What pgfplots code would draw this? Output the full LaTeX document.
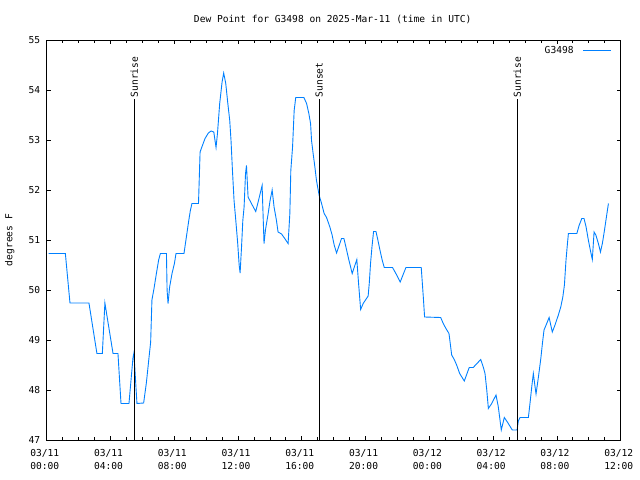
\documentclass[border=0pt]{standalone}
\usepackage{pgfplots}
\pgfplotsset{compat=1.18}
\usepackage{fontspec}
\setmainfont{DejaVu Sans Mono}
\definecolor{gblue}{RGB}{0,128,255}
\newcommand{\gfont}{\fontsize{9.6bp}{12.7bp}\selectfont}
\begin{document}
\begin{tikzpicture}
\path[use as bounding box] (-46.7bp,-40bp) rectangle (593.3bp,440bp);
\begin{axis}[
  at={(0,0)}, anchor=south west,
  scale only axis, width=574bp, height=400bp,
  xmin=0, xmax=36, ymin=47, ymax=55,
  xtick={0,4,...,36}, minor x tick num=3,
  xticklabels={{03/11\\00:00},{03/11\\04:00},{03/11\\08:00},{03/11\\12:00},{03/11\\16:00},{03/11\\20:00},{03/12\\00:00},{03/12\\04:00},{03/12\\08:00},{03/12\\12:00}},
  xticklabel style={align=center, font=\gfont, yshift=-6bp, xshift=-2bp},
  yticklabel style={font=\gfont, xshift=-3bp},
  ytick={47,48,...,55},
  tick align=inside,
  major tick length=4bp, minor tick length=3bp,
  every tick/.style={black, line width=0.8bp},
  axis line style={line width=0.8bp},
  /pgf/number format/assume math mode=true,
  legend style={at={(1,1)}, anchor=north east, draw=none, fill=none, xshift=-6bp, yshift=-2bp, font=\gfont},
  legend plot pos=right, legend cell align=right,
  legend image code/.code={\path (0bp,0bp); \draw[#1] (7bp,0bp) -- (35bp,0bp);},
]
\addplot[gblue, line width=0.9bp] coordinates {
(0.12,50.73) (1.17,50.73) (1.46,49.74) (2.65,49.74) (3.15,48.73) (3.49,48.73)
(3.65,49.74) (3.70,49.64) (4.16,48.73) (4.47,48.73) (4.66,47.73) (5.16,47.73)
(5.41,48.64) (5.47,48.74) (5.66,47.73) (6.08,47.74)
(6.25,48.14) (6.42,48.66) (6.52,48.96) (6.60,49.80) (6.73,50.03) (6.88,50.33)
(7.02,50.60) (7.13,50.73) (7.51,50.73) (7.55,50.00) (7.61,49.73) (7.71,50.06)
(7.86,50.33) (8.01,50.53) (8.11,50.73) (8.61,50.73) (8.76,51.06) (8.91,51.39)
(9.01,51.59) (9.11,51.73) (9.52,51.73) (9.62,52.76) (9.72,52.85) (9.93,53.03)
(10.14,53.14) (10.31,53.18) (10.48,53.16) (10.62,52.85) (10.71,53.13) (10.85,53.73)
(11.00,54.16) (11.10,54.34) (11.23,54.13) (11.36,53.73) (11.48,53.39) (11.56,52.99)
(11.65,52.39) (11.75,51.79) (11.86,51.39) (11.98,50.93) (12.07,50.50)
(12.13,50.34) (12.22,50.86) (12.30,51.39) (12.38,51.66) (12.47,52.33) (12.53,52.49)
(12.63,51.86) (12.84,51.73) (13.11,51.57) (13.36,51.89) (13.51,52.09) (13.63,50.93)
(13.72,51.20) (13.89,51.53) (14.01,51.79) (14.14,52.00) (14.26,51.66) (14.41,51.39)
(14.51,51.16) (14.73,51.12) (14.93,51.03) (15.14,50.93) (15.25,51.53) (15.31,52.39)
(15.42,52.86) (15.52,53.59) (15.62,53.85) (16.13,53.85) (16.30,53.73) (16.44,53.53)
(16.55,53.33) (16.61,52.99) (16.71,52.73) (16.82,52.46) (16.92,52.19) (17.09,51.89)
(17.24,51.73) (17.40,51.53) (17.55,51.45) (17.76,51.26) (17.90,51.10) (18.03,50.90)
(18.18,50.74) (18.49,51.03) (18.64,51.03) (18.81,50.80) (18.95,50.60) (19.06,50.46)
(19.16,50.33) (19.45,50.61) (19.56,50.13) (19.69,49.61) (19.85,49.73) (20.16,49.88)
(20.23,50.13) (20.31,50.53) (20.40,50.86) (20.50,51.17) (20.65,51.17) (20.75,51.03)
(20.90,50.80) (21.04,50.60) (21.17,50.45) (21.69,50.45) (21.95,50.30) (22.17,50.16)
(22.53,50.45) (23.49,50.45) (23.62,49.86) (23.70,49.46)
(24.71,49.45) (24.87,49.33) (25.04,49.23) (25.23,49.13) (25.40,48.70) (25.56,48.61)
(25.71,48.50) (25.90,48.33) (26.19,48.18) (26.50,48.45) (26.75,48.45) (27.22,48.61)
(27.38,48.46) (27.49,48.33) (27.60,48.00) (27.70,47.63) (27.91,47.73) (28.18,47.90)
(28.32,47.67) (28.43,47.40) (28.51,47.20) (28.70,47.45) (28.95,47.33) (29.20,47.20)
(29.50,47.20)
(29.58,47.38) (29.69,47.45) (30.21,47.45) (30.31,47.73) (30.42,48.06) (30.52,48.33)
(30.63,48.06) (30.69,47.92) (30.84,48.26) (30.99,48.63) (31.09,48.93) (31.19,49.20)
(31.36,49.33) (31.51,49.45) (31.71,49.16) (31.88,49.30) (32.09,49.50) (32.24,49.66)
(32.37,49.86) (32.47,50.10) (32.57,50.60) (32.66,50.93) (32.72,51.13) (33.25,51.13)
(33.39,51.29) (33.56,51.43) (33.70,51.43) (33.83,51.26) (33.97,51.00) (34.12,50.76)
(34.22,50.61) (34.33,51.16) (34.44,51.10) (34.60,50.93) (34.73,50.76) (34.85,50.93)
(34.98,51.19) (35.09,51.43) (35.23,51.73)
};
\addlegendentry{G3498}
\addplot[black, line width=0.8bp, forget plot] coordinates {(5.50,47) (5.50,53.82)};
\addplot[black, line width=0.8bp, forget plot] coordinates {(17.09,47) (17.09,53.82)};
\addplot[black, line width=0.8bp, forget plot] coordinates {(29.52,47) (29.52,53.82)};
\node[rotate=90, anchor=west, inner sep=1.5bp, font=\gfont] at (axis cs:5.50,53.82) {Sunrise};
\node[rotate=90, anchor=west, inner sep=1.5bp, font=\gfont] at (axis cs:17.09,53.82) {Sunset};
\node[rotate=90, anchor=west, inner sep=1.5bp, font=\gfont] at (axis cs:29.52,53.82) {Sunrise};
\end{axis}
\node[font=\gfont, anchor=base] at (286bp,417bp) {Dew Point for G3498 on 2025-Mar-11 (time in UTC)};
\node[font=\gfont, rotate=90, anchor=center] at (-37bp,200bp) {degrees F};
\end{tikzpicture}
\end{document}
